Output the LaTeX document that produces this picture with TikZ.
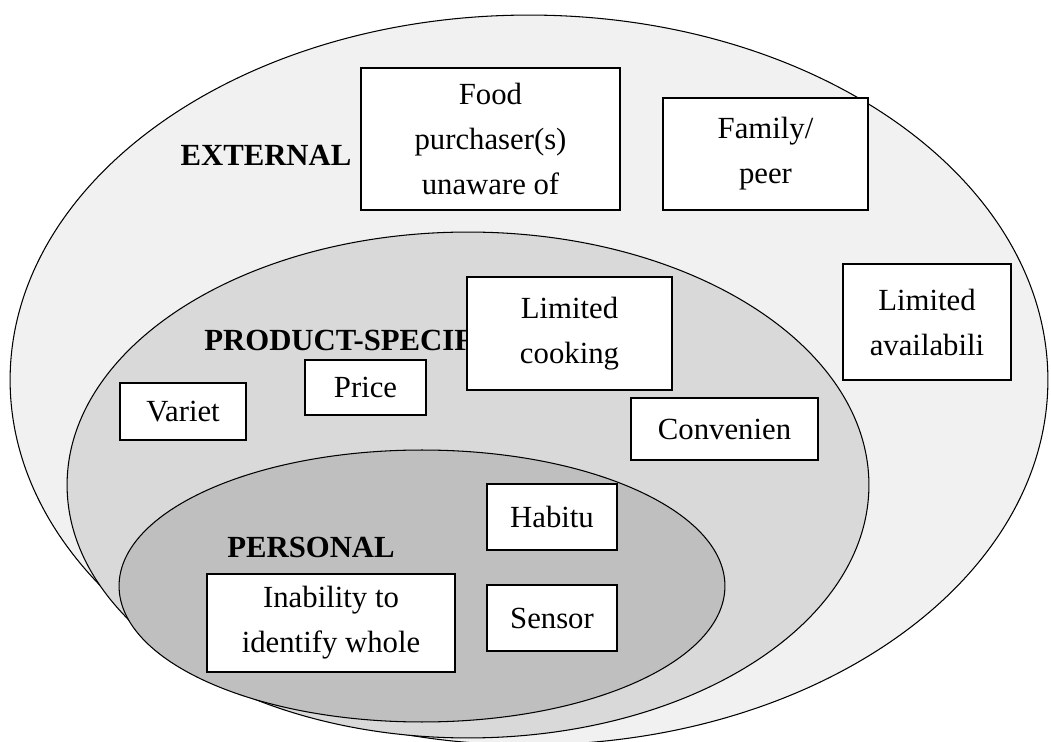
\documentclass[tikz,border=0pt]{standalone}
\usepackage{fontspec}
\setmainfont{Liberation Serif}
\usetikzlibrary{positioning}

\definecolor{outergray}{HTML}{F1F1F1}
\definecolor{middlegray}{HTML}{D9D9D9}
\definecolor{innergray}{HTML}{BFBFBF}

\tikzset{
    factor/.style={draw, fill=white, line width=1.1pt, align=center, inner sep=0pt},
    layer/.style={font=\fontsize{17.5}{25.6}\selectfont\bfseries, inner sep=0pt}
}

\begin{document}
\begin{tikzpicture}[x=0.02cm, y=-0.02cm, font=\fontsize{17.5}{25.6}\selectfont]
    % Frame of the picture
    \useasboundingbox (0,0) rectangle (1051,742);

    \begin{scope}
        \clip (0,0) rectangle (1051,742);

        % Nested layers
        \draw[fill=outergray, line width=0.6pt] (529,380) ellipse [x radius=10.38cm, y radius=7.3cm];
        \draw[fill=middlegray, line width=0.6pt] (468,485) ellipse [x radius=8.02cm, y radius=5.06cm];
        \draw[fill=innergray, line width=0.6pt] (422,586) ellipse [x radius=6.06cm, y radius=2.72cm];
    \end{scope}

    % Layer names
    \node[layer] (external) at (266,155) {EXTERNAL};
    \node[layer, anchor=west] (product) at (204,340) {PRODUCT-SPECIF};
    \node[layer] (personal) at (311,547) {PERSONAL};

    % External factors
    \node[factor, minimum width=5.18cm, minimum height=2.84cm] (food) at (490.5,139) {Food\\purchaser(s)\\unaware of};
    \node[factor, minimum width=4.1cm, minimum height=2.24cm] (family) at (765.5,154) {Family/\\peer};
    \node[factor, minimum width=3.36cm, minimum height=2.32cm] (avail) at (927,322) {Limited\\availabili};

    % Product-specific factors
    \node[factor, minimum width=4.1cm, minimum height=2.26cm] (cooking) at (569.5,333.5) {Limited\\cooking};
    \node[factor, minimum width=2.42cm, minimum height=1.1cm] (price) at (365.5,387.5) {Price};
    \node[factor, minimum width=2.52cm, minimum height=1.14cm] (variety) at (183,411.5) {Variet};
    \node[factor, minimum width=3.74cm, minimum height=1.24cm] (conv) at (724.5,429) {Convenien};

    % Personal factors
    \node[factor, minimum width=2.6cm, minimum height=1.32cm] (habit) at (552,517) {Habitu};
    \node[factor, minimum width=2.6cm, minimum height=1.32cm] (sensor) at (552,618) {Sensor};
    \node[factor, minimum width=4.96cm, minimum height=1.96cm] (inability) at (331,623) {Inability to\\identify whole};
\end{tikzpicture}
\end{document}
